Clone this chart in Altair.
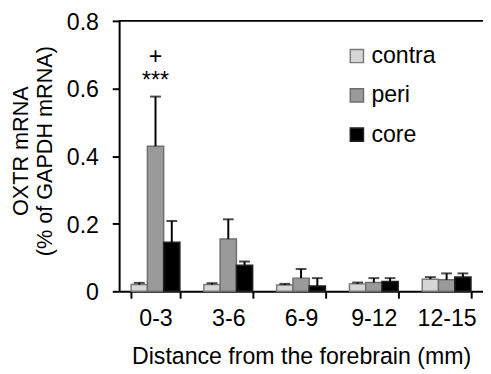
import altair as alt
import pandas as pd

ranges = ["0-3", "3-6", "6-9", "9-12", "12-15"]
groups = ["contra", "peri", "core"]

contra_mean = [0.020, 0.020, 0.019, 0.022, 0.036]
contra_err = [0.005, 0.004, 0.003, 0.004, 0.006]
peri_mean = [0.429, 0.155, 0.039, 0.026, 0.034]
peri_err = [0.147, 0.058, 0.027, 0.013, 0.019]
core_mean = [0.145, 0.077, 0.016, 0.029, 0.042]
core_err = [0.063, 0.011, 0.023, 0.010, 0.011]

fills = ["#d6d6d6", "#9a9a9a", "#000000"]
strokes = ["#7a7a7a", "#6e6e6e", "#222222"]

annot_text = ["+", "***"]
annot_range = ["0-3", "0-3"]
annot_y = [0.672, 0.600]

rows = []
for g, means, errs in [("contra", contra_mean, contra_err),
                       ("peri", peri_mean, peri_err),
                       ("core", core_mean, core_err)]:
    for r, m, e in zip(ranges, means, errs):
        rows.append({"range": r, "group": g, "mean": m, "upper": m + e})
df = pd.DataFrame(rows)
ann = pd.DataFrame({"range": annot_range, "y": annot_y, "text": annot_text})
top = pd.DataFrame({"y": [0.8]})

FONT = "Liberation Sans"

x_enc = alt.X(
    "range:N", sort=ranges,
    scale=alt.Scale(paddingInner=0.33, paddingOuter=0.165),
    axis=alt.Axis(
        title="Distance from the forebrain (mm)", tickBand="extent",
        labelAngle=0, labelFontSize=23.5, labelColor="black", labelPadding=9,
        tickSize=7, tickWidth=2, tickColor="black",
        domainColor="black", domainWidth=2,
        titleFontSize=23.5, titleFontWeight="normal", titleColor="black",
        titlePadding=15,
    ),
)
xo_enc = alt.XOffset("group:N", sort=groups,
                     scale=alt.Scale(domain=groups, paddingInner=0, paddingOuter=0))
y_scale = alt.Scale(domain=[0, 0.8], nice=False)
y_axis = alt.Axis(
    values=[0, 0.2, 0.4, 0.6, 0.8],
    labelExpr="datum.value == 0 ? '0' : format(datum.value, '.1f')",
    labelFontSize=23.5, labelColor="black", labelPadding=14, labelOffset=1.5,
    tickSize=7, tickWidth=2, tickColor="black",
    domainColor="black", domainWidth=2, grid=False,
    title=["OXTR mRNA", "(% of GAPDH mRNA)"],
    titleFontSize=22, titleFontWeight="normal", titleColor="black",
    titleLineHeight=24, titleX=-88, titleY=132,
)

base = alt.Chart(df)
bars = base.mark_bar(strokeWidth=1.5).encode(
    x=x_enc, xOffset=xo_enc,
    y=alt.Y("mean:Q", scale=y_scale, axis=y_axis),
    fill=alt.Fill("group:N", scale=alt.Scale(domain=groups, range=fills),
                  legend=alt.Legend(title=None)),
    stroke=alt.Stroke("group:N", scale=alt.Scale(domain=groups, range=strokes),
                      legend=alt.Legend(title=None)),
)
err = base.mark_rule(strokeWidth=2, color="black").encode(
    x=x_enc, xOffset=xo_enc, y="mean:Q", y2="upper:Q")
caps = base.mark_tick(thickness=2, size=11, color="black").encode(
    x=x_enc, xOffset=xo_enc, y="upper:Q")
topline = alt.Chart(top).mark_rule(strokeWidth=2, color="black").encode(y="y:Q")
texts = alt.Chart(ann).mark_text(fontSize=23.5, font=FONT, color="black",
                                 baseline="alphabetic").encode(
    x=alt.X("range:N", sort=ranges), y="y:Q", text="text:N")

chart = alt.layer(bars, err, caps, topline, texts).properties(
    width=370, height=275,
    autosize=alt.AutoSizeParams(type="none"),
    padding={"left": 113, "top": 10, "right": 0, "bottom": 81},
).configure(font=FONT).configure_view(stroke=None).configure_legend(
    orient="none", legendX=230, legendY=24, padding=0,
    labelFontSize=23.5, labelColor="black", labelFont=FONT, labelOffset=3,
    symbolType="square", symbolSize=180, symbolStrokeWidth=1.5,
    rowPadding=15,
)

chart.save("out.html", embed_options={"renderer": "svg", "actions": False})
